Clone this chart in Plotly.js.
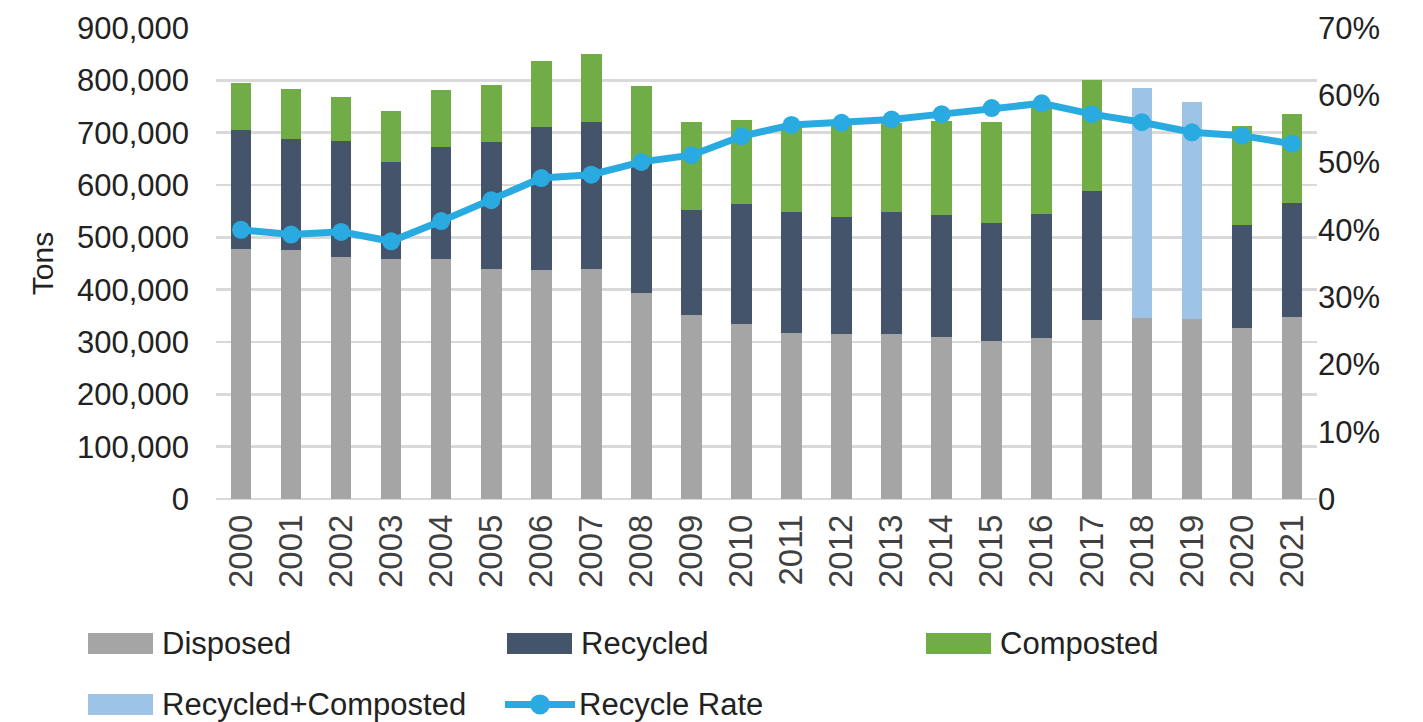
<!DOCTYPE html>
<html>
<head>
<meta charset="utf-8">
<script src="https://cdn.plot.ly/plotly-3.0.1.min.js"></script>
<style>html,body{margin:0;padding:0;background:#fff;}#chart{width:1423px;height:722px;}</style>
</head>
<body>
<div id="chart"></div>
<script>
var years = ['2000','2001','2002','2003','2004','2005','2006','2007','2008','2009','2010','2011','2012','2013','2014','2015','2016','2017','2018','2019','2020','2021'];
var disposed = [477000,475000,462000,458000,458000,440000,437000,439000,394000,351000,335000,318000,316000,316000,309000,302000,307000,343000,345000,344000,327000,347000];
var recycled = [229000,212000,222000,186000,215000,243000,273000,281000,248000,202000,228000,231000,222000,233000,233000,226000,238000,245000,null,null,196000,218000];
var composted = [88000,96000,85000,97000,108000,108000,127000,130000,148000,168000,162000,164000,176000,169000,180000,193000,205000,213000,null,null,189000,170000];
var recycledComposted = [null,null,null,null,null,null,null,null,null,null,null,null,null,null,null,null,null,null,441000,414000,null,null];
var recycleRate = [0.400,0.393,0.397,0.383,0.413,0.444,0.477,0.482,0.501,0.511,0.539,0.556,0.559,0.564,0.572,0.581,0.588,0.572,0.560,0.545,0.540,0.528];
var leftTicks = [0,100000,200000,300000,400000,500000,600000,700000,800000,900000];
var rightTickVals = [0,0.1,0.2,0.3,0.4,0.5,0.6,0.7];
var rightTickText = ['0','10%','20%','30%','40%','50%','60%','70%'];

var C = {disp:'#A5A5A5', rec:'#44546A', comp:'#70AD47', rc:'#9DC3E6', line:'#29ABE2', grid:'#D9D9D9', text:'#222222'};
var FONT = 'Liberation Sans, Arial, sans-serif';

var W = 1423, H = 722, L = 216, R = 106, T = 28, B = 223.3;
var pw = W - L - R, ph = H - T - B;
function px(x){ return (x - L) / pw; }
function py(y){ return (H - B - y) / ph; }

var traces = [
  {type:'bar', name:'Disposed', x:years, y:disposed, marker:{color:C.disp}},
  {type:'bar', name:'Recycled', x:years, y:recycled, marker:{color:C.rec}},
  {type:'bar', name:'Composted', x:years, y:composted, marker:{color:C.comp}},
  {type:'bar', name:'Recycled+Composted', x:years, y:recycledComposted, marker:{color:C.rc}},
  {type:'scatter', mode:'lines+markers', name:'Recycle Rate', x:years, y:recycleRate, yaxis:'y2',
   line:{color:C.line, width:7}, marker:{color:C.line, size:18}}
];

var legendItems = [
  {label:'Disposed', color:C.disp, x:88, y:643, kind:'box'},
  {label:'Recycled', color:C.rec, x:507, y:643, kind:'box'},
  {label:'Composted', color:C.comp, x:926, y:643, kind:'box'},
  {label:'Recycled+Composted', color:C.rc, x:88, y:704, kind:'box'},
  {label:'Recycle Rate', color:C.line, x:505, y:704, kind:'line'}
];
var shapes = [], annotations = [];
legendItems.forEach(function(it){
  if (it.kind === 'box') {
    shapes.push({type:'rect', xref:'paper', yref:'paper', x0:px(it.x), x1:px(it.x+65), y0:py(it.y+10.5), y1:py(it.y-10.5),
      fillcolor:it.color, line:{width:0}});
  } else {
    shapes.push({type:'line', xref:'paper', yref:'paper', x0:px(it.x), x1:px(it.x+70), y0:py(it.y), y1:py(it.y),
      line:{color:it.color, width:7}});
    shapes.push({type:'circle', xref:'paper', yref:'paper', x0:px(it.x+35-10), x1:px(it.x+35+10), y0:py(it.y+10), y1:py(it.y-10),
      fillcolor:it.color, line:{width:0}});
  }
  annotations.push({xref:'paper', yref:'paper', x:px(it.x+72), y:py(it.y), xanchor:'left', yanchor:'middle',
    text:it.label, showarrow:false, font:{family:FONT, size:31, color:C.text}});
});

var layout = {
  width:W, height:H,
  margin:{l:L, r:R, t:T, b:B, pad:0},
  paper_bgcolor:'#ffffff', plot_bgcolor:'#ffffff',
  barmode:'stack', bargap:0.59,
  showlegend:false,
  font:{family:FONT, size:31, color:C.text},
  xaxis:{type:'category', range:[-0.5,21.5], showgrid:false, zeroline:false, showline:false, ticks:'',
    tickangle:-90, tickfont:{family:FONT, size:33, color:'#404040'}, ticklabelstandoff:8, fixedrange:true},
  yaxis:{range:[0,900000], tickvals:leftTicks, tickformat:',', showgrid:true, gridcolor:C.grid, gridwidth:2.5,
    zeroline:true, zerolinecolor:C.grid, zerolinewidth:2.5, showline:false, ticks:'', ticklabelstandoff:26,
    tickfont:{family:FONT, size:31, color:C.text},
    title:{text:'Tons', font:{family:FONT, size:30, color:C.text}, standoff:14}},
  yaxis2:{overlaying:'y', side:'right', range:[0,0.7], tickvals:rightTickVals, ticktext:rightTickText,
    showgrid:false, zeroline:false, showline:false, ticks:'', ticklabelstandoff:0,
    tickfont:{family:FONT, size:31, color:C.text}},
  shapes:shapes,
  annotations:annotations
};

Plotly.newPlot('chart', traces, layout, {displayModeBar:false, staticPlot:true});
</script>
</body>
</html>
